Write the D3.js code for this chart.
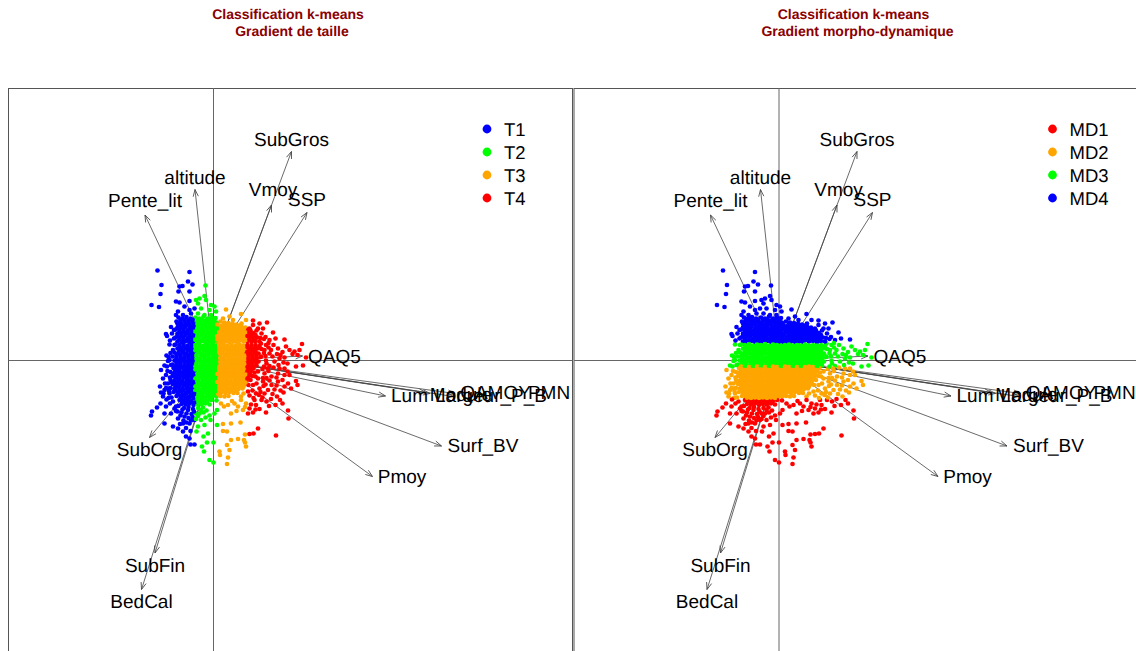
<!DOCTYPE html>
<html><head><meta charset="utf-8">
<script src="https://cdn.jsdelivr.net/npm/d3@7"></script>
<style>html,body{margin:0;padding:0;background:#fff;overflow:hidden}svg{display:block}text{font-family:"Liberation Sans",Arial,sans-serif;text-rendering:geometricPrecision}</style>
</head><body><svg id="c" width="1136" height="651"></svg>
<script>
// Scores on the first factorial plane (x: axis 1, y: axis 2)
const coreScores=[
[-3.5,4.3],[-3.1,4.2],[-2.7,4.35],[-2.3,4.2],[-1.8,4.3],[-1.4,4.2],[-1.0,4.4],[-0.6,4.2],[-0.2,4.3],[0.2,4.25],[0.7,3.9],[1.1,3.8],[1.5,3.75],[1.9,3.7],[2.3,3.6],[2.8,3.7],
[-3.7,3.9],[-3.3,3.85],[-2.9,3.95],[-2.5,3.8],[-2.1,3.9],[-1.7,3.85],[-1.3,3.95],[-0.9,3.8],[-0.5,3.9],[-0.1,3.85],[0.3,3.8],[0.8,3.45],[1.2,3.5],[1.6,3.4],[2.0,3.45],[2.4,3.35],[2.8,3.4],[3.2,3.3],[3.6,3.2],
[-3.5,3.5],[-3.1,3.45],[-2.7,3.55],[-2.3,3.4],[-1.9,3.5],[-1.5,3.45],[-1.1,3.55],[-0.7,3.4],[-0.3,3.5],[0.1,3.45],[0.5,3.4],[0.9,3.1],[1.3,3.15],[1.7,3.05],[2.1,3.1],[2.5,3.0],[2.9,3.05],[3.3,2.95],[3.7,3.0],
[-3.8,3.1],[-3.4,3.05],[-3.0,3.15],[-2.6,3.0],[-2.2,3.1],[-1.8,3.05],[-1.4,3.15],[-1.0,3.0],[-0.6,3.1],[-0.2,3.05],[0.2,3.0],[0.6,3.05],[1.0,2.75],[1.4,2.8],[1.8,2.7],[2.2,2.75],[2.6,2.65],[3.0,2.7],[3.4,2.6],[3.8,2.65],[4.2,2.55],
[-3.6,2.7],[-3.2,2.65],[-2.8,2.75],[-2.4,2.6],[-2.0,2.7],[-1.6,2.65],[-1.2,2.75],[-0.8,2.6],[-0.4,2.7],[0.0,2.65],[0.4,2.6],[0.8,2.4],[1.2,2.45],[1.6,2.35],[2.0,2.4],[2.4,2.3],[2.8,2.35],[3.2,2.25],[3.6,2.3],[4.0,2.2],[4.4,2.3],
[-3.8,2.3],[-3.4,2.25],[-3.0,2.35],[-2.6,2.2],[-2.2,2.3],[-1.8,2.25],[-1.4,2.35],[-1.0,2.2],[-0.6,2.3],[-0.2,2.25],[0.2,2.2],[0.6,2.05],[1.0,2.1],[1.4,2.0],[1.8,2.05],[2.2,1.95],[2.6,2.0],[3.0,1.9],[3.4,1.95],[3.8,1.85],[4.2,1.95],
[-3.6,1.9],[-3.2,1.85],[-2.8,1.95],[-2.4,1.85],[-2.0,1.9],[-1.6,1.85],[-1.2,1.95],[-0.8,1.85],[-0.4,1.9],[0.0,1.85],[0.4,1.85],[0.8,1.85],[1.2,1.9],[1.6,1.85],[2.0,1.9],[2.4,1.85],
[-3.8,1.6],[-3.4,1.55],[-3.0,1.65],[-2.6,1.5],[-2.2,1.6],[-1.8,1.55],[-1.4,1.65],[-1.0,1.5],[-0.6,1.6],[-0.2,1.55],[0.2,1.5],[0.6,1.55],[1.0,1.6],[1.4,1.5],[1.8,1.55],[2.2,1.5],[2.6,1.6],[3.0,1.5],[3.4,1.55],[3.8,1.5],[4.2,1.55],[4.6,1.45],
[-3.6,1.2],[-3.2,1.15],[-2.8,1.25],[-2.4,1.1],[-2.0,1.2],[-1.6,1.15],[-1.2,1.25],[-0.8,1.1],[-0.4,1.2],[0.0,1.15],[0.4,1.1],[0.8,1.2],[1.2,1.15],[1.6,1.1],[2.0,1.2],[2.4,1.1],[2.8,1.2],[3.2,1.1],[3.6,1.15],[4.0,1.1],[4.4,1.2],[4.8,1.15],
[-3.9,0.8],[-3.5,0.75],[-3.1,0.85],[-2.7,0.7],[-2.3,0.8],[-1.9,0.75],[-1.5,0.85],[-1.1,0.7],[-0.7,0.8],[-0.3,0.75],[0.1,0.7],[0.5,0.8],[0.9,0.75],[1.3,0.7],[1.7,0.8],[2.1,0.7],[2.5,0.8],[2.9,0.7],[3.3,0.75],[3.7,0.7],[4.1,0.8],[4.5,0.7],
[-4.1,0.4],[-3.7,0.35],[-3.3,0.45],[-2.9,0.3],[-2.5,0.4],[-2.1,0.35],[-1.7,0.45],[-1.3,0.3],[-0.9,0.4],[-0.5,0.35],[-0.1,0.3],[0.3,0.4],[0.7,0.35],[1.1,0.3],[1.5,0.4],[1.9,0.3],[2.3,0.4],[2.7,0.3],[3.1,0.35],[3.5,0.3],[3.9,0.4],[4.3,0.3],[4.7,0.35],
[-3.9,0.0],[-3.5,-0.05],[-3.1,0.05],[-2.7,-0.1],[-2.3,0.0],[-1.9,-0.05],[-1.5,0.05],[-1.1,-0.1],[-0.7,0.0],[-0.3,-0.05],[0.1,-0.1],[0.5,0.0],[0.9,-0.05],[1.3,-0.1],[1.7,0.0],[2.1,-0.1],[2.5,0.0],[2.9,-0.1],[3.3,-0.05],[3.7,-0.1],[4.1,0.0],[4.5,-0.1],
[-4.1,-0.4],[-3.7,-0.45],[-3.3,-0.35],[-2.9,-0.5],[-2.5,-0.4],[-2.1,-0.45],[-1.7,-0.35],[-1.3,-0.5],[-0.9,-0.4],[-0.5,-0.45],[-0.1,-0.5],[0.3,-0.4],[0.7,-0.45],[1.1,-0.5],[1.5,-0.4],[1.9,-0.5],[2.3,-0.4],[2.7,-0.5],[3.1,-0.45],[3.5,-0.5],[3.9,-0.4],[4.3,-0.5],
[-4.0,-0.75],[-3.6,-0.8],[-3.2,-0.7],[-2.8,-0.85],[-2.4,-0.75],[-2.0,-0.8],[-1.6,-0.7],[-1.2,-0.85],[-0.8,-0.75],[-0.4,-0.8],[0.0,-0.85],[0.4,-0.75],[0.8,-0.8],[1.2,-0.85],[1.6,-0.75],[2.0,-0.85],[2.4,-0.75],[2.8,-0.85],[3.2,-0.8],[3.6,-0.85],[4.0,-0.75],
[-4.3,-1.15],[-3.9,-1.2],[-3.5,-1.1],[-3.1,-1.25],[-2.7,-1.15],[-2.3,-1.2],[-1.9,-1.1],[-1.5,-1.25],[-1.1,-1.15],[-0.7,-1.2],[-0.3,-1.25],[0.1,-1.15],[0.5,-1.2],[0.9,-1.25],[1.3,-1.15],[1.7,-1.25],[2.1,-1.15],[2.5,-1.25],[2.9,-1.2],[3.3,-1.25],[3.7,-1.15],[4.1,-1.2],
[-4.1,-1.55],[-3.7,-1.6],[-3.3,-1.5],[-2.9,-1.65],[-2.5,-1.55],[-2.1,-1.6],[-1.7,-1.5],[-1.3,-1.65],[-0.9,-1.55],[-0.5,-1.6],[-0.1,-1.65],[0.3,-1.55],[0.7,-1.6],[1.1,-1.65],[1.5,-1.55],[1.9,-1.65],[2.3,-1.55],[2.7,-1.65],[3.1,-1.6],[3.5,-1.65],[3.9,-1.55],
[-4.3,-1.95],[-3.9,-2.0],[-3.5,-1.9],[-3.1,-2.05],[-2.7,-1.95],[-2.3,-2.0],[-1.9,-1.9],[-1.5,-2.05],[-1.1,-1.95],[-0.7,-2.0],[-0.3,-2.05],[0.1,-1.95],[0.5,-2.0],[0.9,-2.05],[1.3,-1.95],[1.7,-2.05],[2.1,-1.95],[2.5,-2.05],[2.9,-2.0],[3.3,-2.05],[3.7,-1.95],
[-4.1,-2.35],[-3.7,-2.4],[-3.3,-2.3],[-2.9,-2.45],[-2.5,-2.35],[-2.1,-2.4],[-1.7,-2.3],[-1.3,-2.45],[-0.9,-2.35],[-0.5,-2.4],[-0.1,-2.45],[0.3,-2.35],[0.7,-2.4],[1.1,-2.45],[1.5,-2.35],[1.9,-2.45],[2.3,-2.35],[2.7,-2.45],[3.1,-2.4],[3.5,-2.45],
[-4.3,-2.75],[-3.9,-2.8],[-3.5,-2.7],[-3.1,-2.85],[-2.7,-2.75],[-2.3,-2.8],[-1.9,-2.7],[-1.5,-2.85],[-1.1,-2.75],[-0.7,-2.8],[-0.3,-2.85],[0.1,-2.75],[0.5,-2.8],[0.9,-2.85],[1.3,-2.75],[1.7,-2.85],[2.1,-2.75],[2.5,-2.85],[2.9,-2.8],
[-4.0,-3.15],[-3.6,-3.2],[-3.2,-3.1],[-2.8,-3.25],[-2.4,-3.15],[-2.0,-3.2],[-1.6,-3.1],[-1.2,-3.25],[-0.8,-3.15],[-0.4,-3.2],[0.0,-3.25],[0.4,-3.15],[0.8,-3.2],[1.2,-3.25],[1.6,-3.15],[2.0,-3.25],
[-3.7,-3.55],[-3.3,-3.6],[-2.9,-3.5],[-2.5,-3.65],[-2.1,-3.55],[-1.7,-3.6],[-1.3,-3.5],[-0.9,-3.65],[-0.5,-3.55],[-0.1,-3.6],[0.3,-3.6],[0.7,-3.55],
[-3.4,-3.95],[-3.0,-4.0],[-2.6,-3.9],[-2.2,-4.05],[-1.8,-3.95],[-1.4,-4.0],[-1.0,-3.9],[-0.6,-4.05],[-0.2,-3.95],
[-3.2,-4.35],[-2.8,-4.4],[-2.4,-4.3],[-2.0,-4.45],[-1.6,-4.35],[-1.2,-4.4],[-0.8,-4.3],[-0.4,-4.4]
];
const fillScores=[
[-3.3,4.05],[-2.9,4.1],[-2.5,4.0],[-2.1,4.1],[-1.6,4.05],[-1.15,4.1],[-0.8,4.0],[-0.35,4.1],[0.05,4.0],[1.0,3.6],[1.4,3.6],[1.8,3.55],[2.2,3.5],[2.6,3.5],
[-3.6,3.7],[-3.2,3.65],[-2.8,3.7],[-2.4,3.6],[-2.0,3.7],[-1.6,3.65],[-1.2,3.7],[-0.8,3.6],[-0.4,3.7],[0.0,3.65],[0.4,3.6],[0.65,3.25],[1.0,3.3],[1.4,3.25],[1.85,3.25],[2.2,3.2],[2.65,3.2],[3.05,3.15],[3.5,3.1],
[-3.6,3.3],[-3.2,3.25],[-2.8,3.35],[-2.4,3.2],[-2.0,3.3],[-1.6,3.25],[-1.2,3.3],[-0.8,3.2],[-0.4,3.3],[0.0,3.25],[0.35,3.2],[0.75,2.9],[1.15,2.95],[1.6,2.85],[2.0,2.9],[2.4,2.85],[2.8,2.85],[3.2,2.8],[3.6,2.8],[4.0,2.75],
[-3.4,2.85],[-3.0,2.9],[-2.6,2.8],[-2.2,2.9],[-1.8,2.85],[-1.4,2.95],[-1.0,2.8],[-0.6,2.85],[-0.2,2.85],[0.2,2.8],[0.6,2.75],[1.0,2.55],[1.4,2.6],[1.8,2.5],[2.2,2.55],[2.6,2.45],[3.0,2.5],[3.4,2.45],[3.8,2.45],[4.2,2.4],
[-3.6,2.5],[-3.2,2.45],[-2.8,2.55],[-2.4,2.4],[-2.0,2.5],[-1.6,2.45],[-1.2,2.55],[-0.8,2.4],[-0.4,2.5],[0.0,2.45],[0.4,2.4],[0.8,2.2],[1.2,2.25],[1.6,2.15],[2.0,2.2],[2.4,2.1],[2.8,2.15],[3.2,2.05],[3.6,2.1],[4.0,2.0],
[-3.4,2.1],[-3.0,2.05],[-2.6,2.0],[-2.2,2.1],[-1.8,2.05],[-1.4,2.1],[-1.0,2.0],[-0.6,2.1],[-0.2,2.05],[0.2,2.0],[0.4,2.1],
[-3.4,1.35],[-3.0,1.4],[-2.6,1.3],[-2.2,1.4],[-1.8,1.35],[-1.4,1.45],[-1.0,1.3],[-0.6,1.4],[-0.2,1.35],[0.2,1.3],[0.6,1.35],[1.0,1.4],[1.4,1.3],[1.8,1.35],[2.2,1.3],[2.6,1.4],[3.0,1.3],[3.4,1.35],[3.8,1.3],[4.2,1.35],[4.6,1.25],
[-3.4,1.0],[-3.0,0.95],[-2.6,1.05],[-2.2,0.9],[-1.8,1.0],[-1.4,0.95],[-1.0,1.05],[-0.6,0.9],[-0.2,1.0],[0.2,0.95],[0.6,0.9],[1.0,1.0],[1.4,0.95],[1.8,0.9],[2.2,1.0],[2.6,0.9],[3.0,1.0],[3.4,0.9],[3.8,0.95],[4.2,0.9],
[-3.7,0.6],[-3.3,0.55],[-2.9,0.65],[-2.5,0.5],[-2.1,0.6],[-1.7,0.55],[-1.3,0.65],[-0.9,0.5],[-0.5,0.6],[-0.1,0.55],[0.3,0.5],[0.7,0.6],[1.1,0.55],[1.5,0.5],[1.9,0.6],[2.3,0.5],[2.7,0.6],[3.1,0.5],[3.5,0.55],[3.9,0.5],[4.3,0.6],
[-3.7,0.2],[-3.3,0.15],[-2.9,0.25],[-2.5,0.1],[-2.1,0.2],[-1.7,0.15],[-1.3,0.25],[-0.9,0.1],[-0.5,0.2],[-0.1,0.15],[0.3,0.1],[0.7,0.2],[1.1,0.15],[1.5,0.1],[1.9,0.2],[2.3,0.1],[2.7,0.2],[3.1,0.1],[3.5,0.15],[3.9,0.1],[4.3,0.2],
[-3.7,-0.2],[-3.3,-0.25],[-2.9,-0.15],[-2.5,-0.3],[-2.1,-0.2],[-1.7,-0.25],[-1.3,-0.15],[-0.9,-0.3],[-0.5,-0.2],[-0.1,-0.25],[0.3,-0.3],[0.7,-0.2],[1.1,-0.25],[1.5,-0.3],[1.9,-0.2],[2.3,-0.3],[2.7,-0.2],[3.1,-0.3],[3.5,-0.25],[3.9,-0.3],[4.3,-0.2],
[-3.8,-0.62],[-3.4,-0.58],[-3.0,-0.65],[-2.6,-0.6],[-2.2,-0.62],[-1.8,-0.58],[-1.4,-0.65],[-1.0,-0.6],[-0.6,-0.62],[-0.2,-0.65],[0.2,-0.6],[0.6,-0.62],[1.0,-0.65],[1.4,-0.6],[1.8,-0.65],[2.2,-0.6],[2.6,-0.65],[3.0,-0.62],[3.4,-0.65],[3.8,-0.6],
[-3.8,-0.98],[-3.4,-0.95],[-3.0,-1.05],[-2.6,-0.95],[-2.2,-1.0],[-1.8,-0.9],[-1.4,-1.05],[-1.0,-0.95],[-0.6,-1.0],[-0.2,-1.05],[0.2,-0.95],[0.6,-1.0],[1.0,-1.05],[1.4,-0.95],[1.8,-1.05],[2.2,-0.95],[2.6,-1.05],[3.0,-1.0],[3.4,-1.05],[3.8,-0.95],
[-4.0,-1.35],[-3.6,-1.4],[-3.2,-1.3],[-2.8,-1.45],[-2.4,-1.35],[-2.0,-1.4],[-1.6,-1.3],[-1.2,-1.45],[-0.8,-1.35],[-0.4,-1.4],[0.0,-1.45],[0.4,-1.35],[0.8,-1.4],[1.2,-1.45],[1.6,-1.35],[2.0,-1.45],[2.4,-1.35],[2.8,-1.45],[3.2,-1.4],[3.6,-1.45],
[-3.8,-1.75],[-3.4,-1.8],[-3.0,-1.7],[-2.6,-1.85],[-2.2,-1.75],[-1.8,-1.8],[-1.4,-1.7],[-1.0,-1.85],[-0.6,-1.75],[-0.2,-1.8],[0.2,-1.85],[0.6,-1.75],[1.0,-1.8],[1.4,-1.85],[1.8,-1.75],[2.2,-1.85],[2.6,-1.75],[3.0,-1.85],[3.4,-1.8],
[-4.0,-2.15],[-3.6,-2.2],[-3.2,-2.1],[-2.8,-2.25],[-2.4,-2.15],[-2.0,-2.2],[-1.6,-2.1],[-1.2,-2.25],[-0.8,-2.15],[-0.4,-2.2],[0.0,-2.25],[0.4,-2.15],[0.8,-2.2],[1.2,-2.25],[1.6,-2.15],[2.0,-2.25],[2.4,-2.15],[2.8,-2.25],[3.2,-2.2],
[-3.8,-2.55],[-3.4,-2.6],[-3.0,-2.5],[-2.6,-2.65],[-2.2,-2.55],[-1.8,-2.6],[-1.4,-2.5],[-1.0,-2.65],[-0.6,-2.55],[-0.2,-2.6],[0.2,-2.65],[0.6,-2.55],[1.0,-2.6],[1.4,-2.65],[1.8,-2.55],[2.2,-2.65],[2.6,-2.55],[3.0,-2.6],
[-3.8,-2.98],[-3.4,-3.0],[-3.0,-2.95],[-2.6,-3.05],[-2.2,-2.95],[-1.8,-3.0],[-1.4,-2.95],[-1.0,-3.05],[-0.6,-2.95],[-0.2,-3.0],[0.2,-3.05],[0.6,-2.95],[1.0,-3.0],[1.4,-3.05],[1.8,-2.95],[2.2,-3.05],
[-3.5,-3.35],[-3.1,-3.4],[-2.7,-3.3],[-2.3,-3.45],[-1.9,-3.35],[-1.5,-3.4],[-1.1,-3.3],[-0.7,-3.45],[-0.3,-3.35],[0.1,-3.4],[0.5,-3.4],
[-3.2,-3.72],[-2.8,-3.75],[-2.4,-3.7],[-2.0,-3.75],[-1.6,-3.7],[-1.2,-3.75],[-0.8,-3.7],[-0.4,-3.75],
[-3.1,-4.15],[-2.7,-4.2],[-2.3,-4.15],[-1.9,-4.2],[-1.5,-4.15],[-1.1,-4.2],[-0.7,-4.15]
];
const sparseScores=[
[-5.6,9.0],[-2.4,8.85],[-5.2,7.55],[-5.3,6.65],[-6.2,5.55],[-5.45,5.35],[-2.55,7.9],[-2.1,7.6],[-3.1,7.45],[-3.4,7.4],[-3.5,6.9],[-2.4,6.9],[-0.8,7.5],[-0.9,6.45],[-3.75,5.9],[-3.4,5.8],[-2.9,5.4],[-2.4,5.95],[-1.75,6.05],[-1.4,6.2],[-1.55,5.7],[-0.75,6.05],[-0.25,5.55],[0.1,5.4],[-0.4,5.05],[0.25,4.9],[-1.25,5.2],[-1.9,5.2],[-3.55,4.9],[-3.75,4.55],[-3.05,4.55],[-2.4,5.05],[-2.25,4.7],[-1.55,4.7],[-0.9,4.55],[-0.25,4.55],[1.25,5.1],[1.6,4.4],[2.75,4.65],[3.25,4.05],[3.95,4.0],[0.95,4.2],[1.95,4.05],[4.6,3.7],[5.35,3.8],[4.95,3.2],[4.45,3.2],[4.8,2.7],[3.95,3.55],[5.95,2.8],[6.2,2.2],[7.1,2.1],[5.6,2.05],[-4.75,2.65],[-4.65,2.45],[-3.95,2.2],[-3.95,3.05],[4.3,3.0],[4.7,2.25],[5.2,2.35],
[4.75,1.7],[5.25,1.55],[5.75,1.05],[6.45,1.2],[7.25,1.4],[7.6,1.05],[8.1,0.9],[8.6,1.05],[8.85,1.65],[8.4,0.55],[9.25,0.3],[8.95,-0.5],[8.25,-0.6],[7.4,-0.3],[6.6,0.2],[6.1,-0.1],[5.6,0.7],[5.1,1.05],[5.25,0.0],[4.75,0.4],[5.6,-0.55],[7.9,0.65],[6.9,0.85],[-4.4,0.05],[-4.05,1.05],[-3.9,1.55],[-4.55,-0.05],[-4.25,-0.45],[-4.5,0.35],
[-5.25,-0.95],[-4.75,-1.45],[-5.05,-1.8],[-4.55,-2.3],[-5.25,-3.2],[-4.9,-2.95],[-4.4,-3.3],[-5.05,-3.6],[-4.6,-1.05],[4.45,-1.1],[5.1,-1.3],[5.8,-1.6],[6.45,-1.3],[7.1,-1.45],[7.6,-1.45],[8.25,-2.05],[8.4,-2.45],[7.45,-2.3],[7.75,-2.8],[7.1,-2.6],[6.45,-2.1],[5.8,-2.45],[4.95,-2.1],[4.45,-1.8],[5.3,-1.75],[4.6,-2.8],[3.95,-2.45],[5.45,-2.95],[4.25,-3.3],[3.45,-3.1],[7.1,-0.8],[6.6,-0.8],[4.9,-0.85],[5.5,-1.05],[2.4,-3.25],[3.0,-3.3],[2.75,-3.6],[1.5,-3.55],[1.1,-3.6],[4.2,-1.6],[6.1,-2.9],[6.9,-1.95],
[-5.65,-4.7],[-6.15,-5.1],[-6.25,-5.5],[-4.9,-5.3],[-4.75,-4.6],[-4.05,-4.1],[-3.75,-4.6],[-4.25,-5.3],[-3.55,-5.8],[-4.9,-6.3],[-4.05,-6.6],[-3.55,-6.8],[-3.05,-7.1],[-2.75,-7.6],[-2.4,-7.8],[-2.3,-8.4],[-1.9,-8.4],[-2.9,-5.6],[-2.55,-4.95],[-2.05,-4.85],[-1.55,-4.75],[-1.05,-4.7],[-1.75,-5.3],[-1.25,-5.95],[-1.55,-6.6],[-0.9,-6.45],[-1.9,-5.95],[-2.4,-6.3],[-3.05,-6.3],[-0.55,-7.3],[-0.65,-8.2],[-1.15,-8.6],[-0.95,-9.1],[-0.4,-9.95],[0.0,-10.2],[0.6,-9.1],[0.65,-9.45],[1.45,-9.7],[1.35,-10.35],[1.6,-8.95],[0.0,-8.2],[1.75,-7.95],[1.35,-8.45],[2.45,-7.85],[3.05,-7.95],[3.15,-8.2],[3.25,-8.6],[3.15,-7.4],[3.6,-7.35],[4.0,-7.3],[4.45,-6.8],[6.25,-7.5],[7.5,-5.8],[7.45,-5.0],[5.25,-5.2],[3.45,-5.3],[3.6,-4.8],[4.25,-4.45],[4.8,-3.95],[4.1,-3.95],[2.95,-4.95],[2.45,-4.6],[1.75,-5.3],[1.45,-4.45],[0.75,-4.3],[0.3,-4.0],[0.1,-5.3],[0.35,-4.95],[0.35,-6.45],[0.95,-6.35],[1.75,-6.3],[2.7,-6.2],[0.95,-7.05],[1.35,-7.1],[2.1,-4.3],[2.75,-3.95],[3.25,-4.3],[3.75,-4.4],[6.65,-3.95],[1.05,-4.6],[1.85,-4.05],[2.3,-5.05],[3.15,-4.65],
[-3.6,-5.1],[-3.1,-4.9],[-2.7,-5.3],[-2.2,-5.35],[-3.3,-5.5],[-2.5,-5.75],[-2.1,-5.65],[-1.4,-5.3],[-0.7,-5.0],[-0.4,-5.5],[-3.9,-4.8],[-3.0,-6.0],[-2.75,-6.75],[-2.3,-7.05],[-1.7,-7.1],[-1.0,-7.6],[-0.3,-5.95],
[4.6,1.9],[5.2,0.45],[5.5,1.3],[5.9,0.4],[6.35,0.65],[5.3,-0.3],[6.5,-0.45],[5.05,-0.6],[4.95,-1.75],[5.6,-2.0],[4.3,-2.3],[4.55,-3.45],[5.1,-3.3],[5.9,-3.35],[6.35,-3.6],[7.0,-3.2],[3.9,-3.0],[3.6,-3.5],[4.0,-3.75],[5.3,-4.1],[5.55,-4.55],[6.2,-4.45],[4.6,-4.85],[3.95,-5.2],
[-5.0,-3.3],[-4.85,-2.3],[-4.9,-0.5],[-4.7,0.5],[-4.4,1.6],[-4.5,-2.8],[-4.5,-3.75],[-4.35,-4.3],[-5.35,-2.6],
[-3.5,-4.55],[-3.75,-5.05],[-3.2,-5.2],[-2.95,-4.75],[-2.5,-4.65],[-1.95,-5.1],[-1.55,-5.55],[-1.0,-5.2],[-1.25,-4.95],[-2.25,-6.0],[-2.7,-6.2],[-3.35,-6.35],[-1.75,-5.85],[-0.8,-5.7],
[5.05,2.15],[5.5,1.75],[6.0,1.55],[5.05,0.75],[6.7,0.55],[7.1,0.3],[7.0,-0.2],[6.0,-0.7],[5.4,-0.8],[6.3,-1.7],[7.4,-1.1],[5.0,-2.55],[4.7,-3.15],[5.2,-2.4],[6.7,-3.0],[6.3,-2.5],[4.9,-3.7],[5.75,-3.85],[6.9,-4.3],[4.2,-4.9],
[-4.2,-2.15],[-4.75,-2.75],[-4.35,-1.7],[-4.65,-0.6],[-4.3,0.75],[-4.35,2.0],[-4.15,2.7],[-4.25,3.35],[-4.45,-3.05],[-4.7,-3.9],[-5.3,-4.3],[-4.2,-3.7]
];
const sizeClasses=["T1","T2","T3","T4"];
const sizeBreaks=[-1.85,0.4,3.3];
const sizeColors=["#0000ff","#00ff00","#ffa500","#ff0000"];
const morphoClasses=["MD1","MD2","MD3","MD4"];
const morphoBreaks=[-3.8,-0.6,1.8];
const morphoColors=["#ff0000","#ffa500","#00ff00","#0000ff"];
const variables=["SubGros","altitude","Pente_lit","Vmoy","SSP","QAQ5","Lum","Module","Largeur_P_B","QAMOY","PMN","Surf_BV","Pmoy","SubOrg","SubFin","BedCal"];
const loadX=[7.8,-1.85,-6.85,5.8,9.35,8.9,17.2,21.25,21.65,24.15,24.0,22.8,15.9,-6.4,-5.85,-7.2];
const loadY=[20.9,17.1,14.55,15.55,14.8,0.45,-3.55,-3.2,-3.3,-3.3,-3.6,-8.55,-11.6,-7.7,-19.25,-22.9];
const labelX=[7.8,-1.85,-6.85,5.95,9.35,12.1,19.6,24.75,27.75,28.2,33.55,26.95,18.85,-6.4,-5.85,-7.2];
const labelY=[22.05,18.25,15.9,17.05,16.05,0.35,-3.55,-3.45,-3.55,-3.25,-3.25,-8.55,-11.65,-8.95,-20.55,-24.15];
const titles=[["Classification k-means"," Gradient de taille"],["Classification k-means","Gradient morpho-dynamique"]];

const svg=d3.select("#c");
const scores=coreScores.concat(fillScores,sparseScores);
const x=d3.scaleLinear().domain([-20.5,35.9]).range([8.5,572.5]);
const y=d3.scaleLinear().domain([27.25,-29.05]).range([88,651]);
svg.append("defs").append("marker").attr("id","ah").attr("markerUnits","userSpaceOnUse")
 .attr("markerWidth",12).attr("markerHeight",12).attr("refX",8).attr("refY",6).attr("orient","auto")
 .append("path").attr("d","M1,3.4L8,6L1,8.6").attr("fill","none").attr("stroke","#444").attr("stroke-width",0.8);

function panel(dx,tt,color,pick,classes,colors){
 const g=svg.append("g").attr("transform",`translate(${dx},0)`);
 g.selectAll(".t").data(tt).join("text").attr("x",(d,i)=>i==0?288:292).attr("y",(d,i)=>19+i*17)
  .attr("text-anchor","middle").attr("font-size",14).attr("font-weight","bold").attr("fill","#8b0000").text(d=>d);
 g.append("rect").attr("x",x.range()[0]).attr("y",88.5).attr("width",564).attr("height",600).attr("fill","none").attr("stroke","#555").attr("stroke-width",1);
 g.append("line").attr("x1",x(-20.5)).attr("x2",x(35.9)).attr("y1",y(0)).attr("y2",y(0)).attr("stroke","#666");
 g.append("line").attr("x1",x(0)).attr("x2",x(0)).attr("y1",88).attr("y2",651).attr("stroke","#666");
 g.selectAll(".a").data(variables).join("line").attr("x1",x(0)).attr("y1",y(0))
  .attr("x2",(d,i)=>x(loadX[i])).attr("y2",(d,i)=>y(loadY[i])).attr("stroke","#444").attr("stroke-width",0.8).attr("marker-end","url(#ah)");
 g.selectAll(".p").data(scores).join("circle").attr("cx",d=>x(d[0])).attr("cy",d=>y(d[1])).attr("r",2.35).attr("fill",d=>color(pick(d)));
 g.selectAll(".l").data(variables).join("text").attr("x",(d,i)=>x(labelX[i])).attr("y",(d,i)=>y(labelY[i])+5.5)
  .attr("text-anchor","middle").attr("font-size",19).attr("fill","#000").text(d=>d);
 classes.forEach((c,i)=>{
  g.append("circle").attr("cx",487).attr("cy",129+i*23).attr("r",4.4).attr("fill",colors[i]);
  g.append("text").attr("x",504).attr("y",135.5+i*23).attr("font-size",18.5).attr("fill","#000").text(c);
 });
}
panel(0,titles[0],d3.scaleThreshold().domain(sizeBreaks).range(sizeColors),d=>d[0],sizeClasses,sizeColors);
panel(565.5,titles[1],d3.scaleThreshold().domain(morphoBreaks).range(morphoColors),d=>d[1],morphoClasses,morphoColors);
</script></body></html>
